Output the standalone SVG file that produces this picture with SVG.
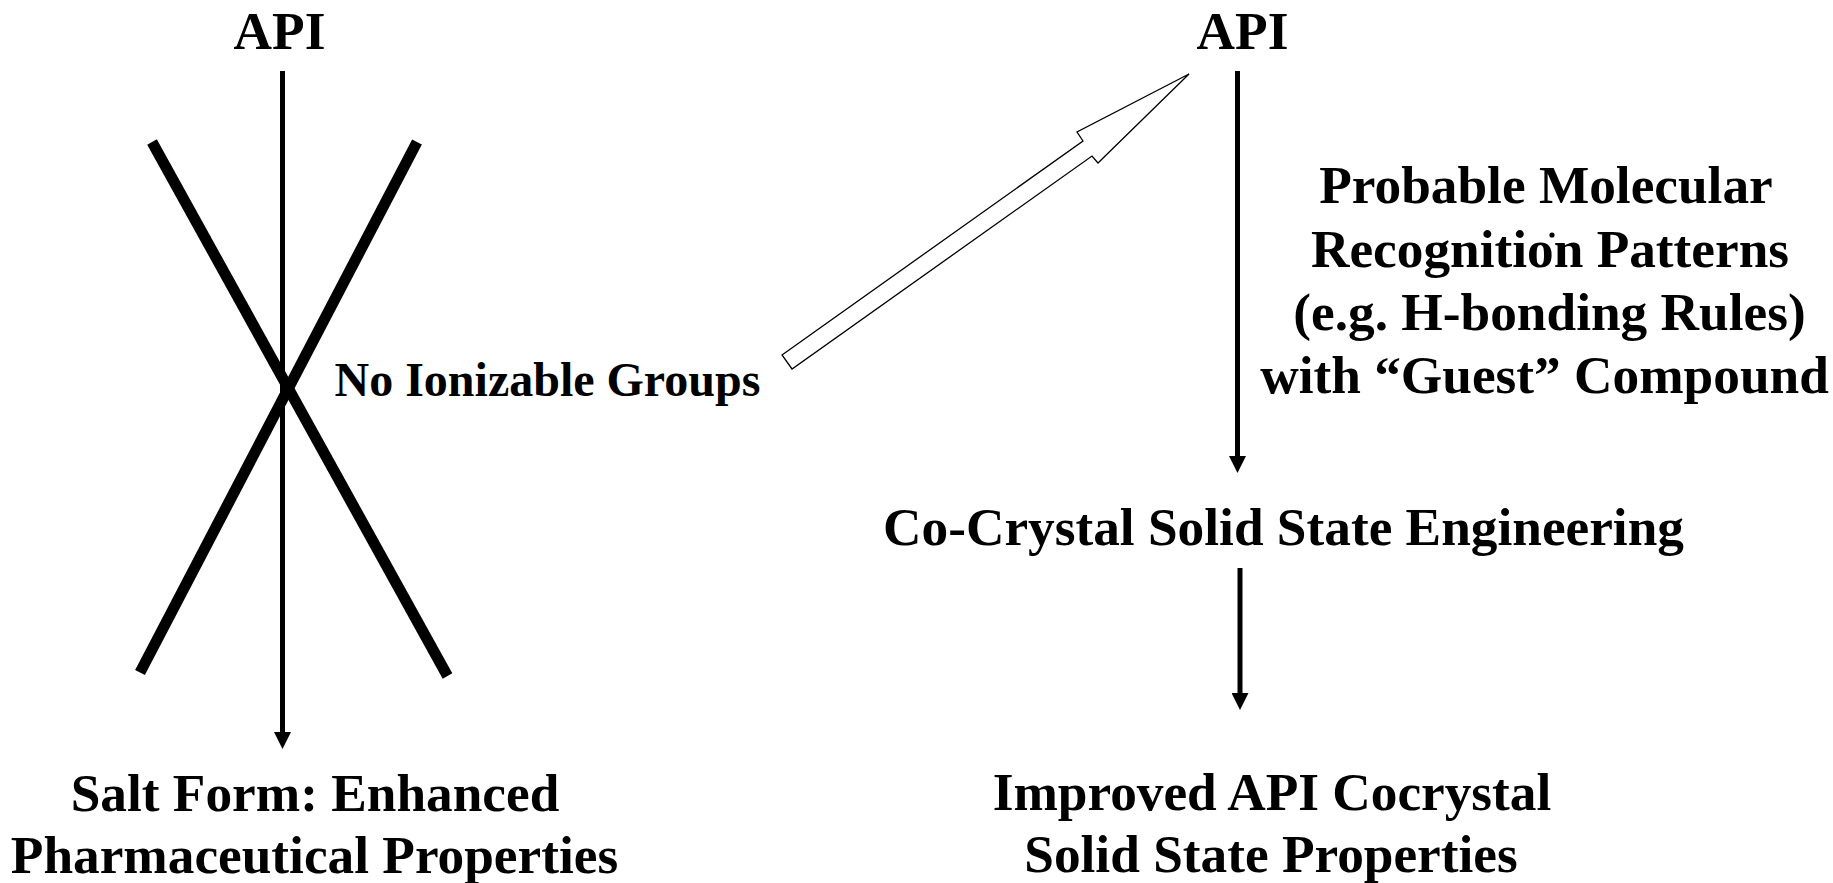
<svg xmlns="http://www.w3.org/2000/svg" width="1833" height="883" viewBox="0 0 1833 883">
  <style>
    .t { font-family: "Liberation Serif", "Times New Roman", serif; font-weight: bold; font-size: 53.3px; fill: #000; text-anchor: middle; }
    .s { font-size: 48px; text-anchor: start; }
    .ln { stroke: #000; stroke-width: 5; fill: none; }
    .x { stroke: #000; stroke-width: 11; fill: none; stroke-linecap: butt; }
  </style>
  <defs>
    <marker id="ah" markerUnits="userSpaceOnUse" markerWidth="17" markerHeight="17" viewBox="0 0 17 17" refX="0" refY="8.5" orient="auto">
      <path d="M0,0 L17,8.5 L0,17 Z" fill="#000"/>
    </marker>
  </defs>
  <rect width="1833" height="883" fill="#fff"/>

  <g id="connectors">
    <line class="ln" x1="282.5" y1="71" x2="282.5" y2="732" marker-end="url(#ah)"/>
    <line class="ln" x1="1237.5" y1="71" x2="1237.5" y2="456" marker-end="url(#ah)"/>
    <line class="ln" x1="1240" y1="568" x2="1240" y2="693" marker-end="url(#ah)"/>
    <polygon id="hollow-arrow" points="782,355 1083,141 1077,132 1189,74 1098,163 1092,156 792,369" fill="#fff" stroke="#000" stroke-width="1.3" stroke-linejoin="miter"/>
  </g>

  <g id="cross">
    <line class="x" x1="152" y1="142" x2="447.5" y2="676"/>
    <line class="x" x1="417" y1="142" x2="140" y2="672.5"/>
  </g>

  <g id="api-left">
    <text class="t" x="279.5" y="49">API</text>
  </g>
  <g id="no-ionizable">
    <text class="t s" x="334.5" y="396">No Ionizable Groups</text>
  </g>
  <g id="salt-form">
    <text class="t" x="315" y="811">Salt Form: Enhanced</text>
    <text class="t" x="314.5" y="873">Pharmaceutical Properties</text>
  </g>
  <g id="api-right">
    <text class="t" x="1242.5" y="49">API</text>
  </g>
  <g id="recognition">
    <text class="t" x="1546" y="203">Probable Molecular</text>
    <text class="t" x="1550" y="267">Recognition Patterns</text>
    <text class="t" x="1549.5" y="330">(e.g. H-bonding Rules)</text>
    <text class="t" x="1544.5" y="393">with “Guest” Compound</text>
    <circle cx="1552" cy="235" r="2.6" fill="#000"/>
  </g>
  <g id="cocrystal">
    <text class="t" x="1283.5" y="545">Co-Crystal Solid State Engineering</text>
  </g>
  <g id="improved">
    <text class="t" x="1272" y="810">Improved API Cocrystal</text>
    <text class="t" x="1271" y="872">Solid State Properties</text>
  </g>
</svg>
